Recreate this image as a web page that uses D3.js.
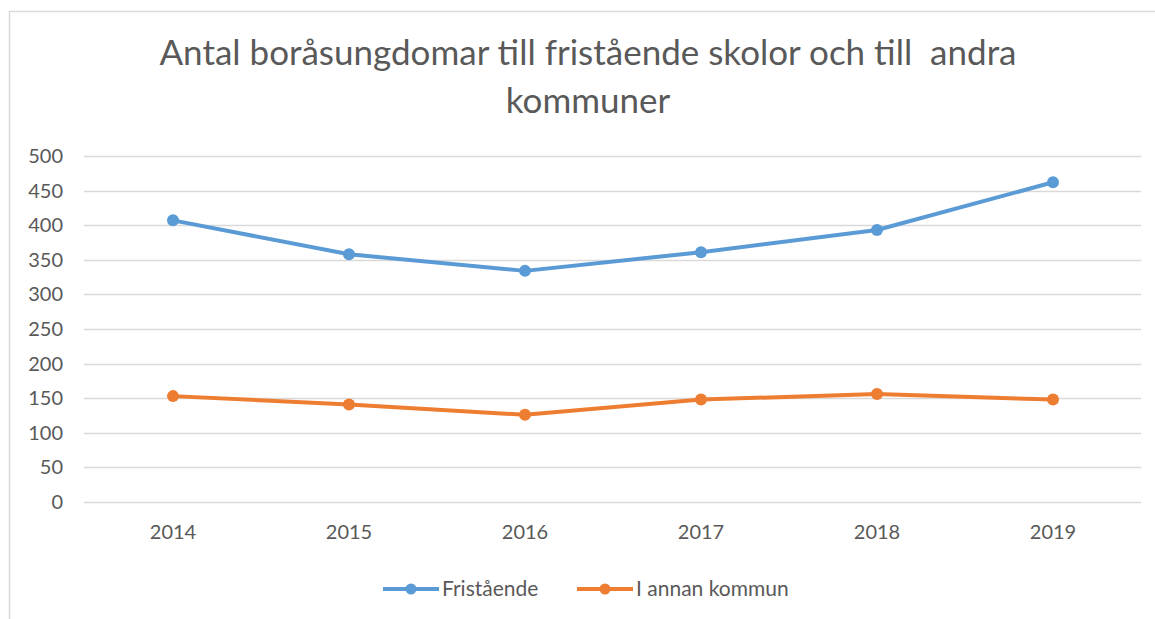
<!DOCTYPE html>
<html>
<head>
<meta charset="utf-8">
<script src="https://cdn.jsdelivr.net/npm/d3@7"></script>
<style>
  body { margin: 0; background: #fff; }
  text { font-family: Lato, "Open Sans", sans-serif; fill: #595959; }
</style>
</head>
<body>
<div id="chart"></div>
<script>
var years = ["2014", "2015", "2016", "2017", "2018", "2019"];
var fristaende = [407, 358, 334, 361, 393, 462];
var annanKommun = [153, 141, 126, 148, 156, 148];
var seriesNames = ["Fristående", "I annan kommun"];
var seriesColors = ["#5B9BD5", "#ED7D31"];
var yTicks = [0, 50, 100, 150, 200, 250, 300, 350, 400, 450, 500];

var width = 1155, height = 619;
var margin = {top: 156, right: 14, bottom: 117, left: 85};

var svg = d3.select("#chart").append("svg")
    .attr("width", width)
    .attr("height", height);

// chart frame (only top and left edge visible)
svg.append("path")
    .attr("d", "M9.5," + height + "V11.5H" + width)
    .attr("fill", "none")
    .attr("stroke", "#D9D9D9")
    .attr("stroke-width", 1.5);

var x = d3.scaleBand().domain(years).range([margin.left, width - margin.right]);
var y = d3.scaleLinear().domain([0, 500]).range([height - margin.bottom, margin.top]);

// title
var title = svg.append("text")
    .attr("text-anchor", "middle")
    .attr("font-size", 35)
    .style("white-space", "pre");
title.append("tspan").attr("x", 588).attr("y", 65).text("Antal boråsungdomar till fristående skolor och till  andra");
title.append("tspan").attr("x", 588).attr("y", 113).text("kommuner");

// gridlines
svg.append("g")
    .selectAll("line")
    .data(yTicks)
    .enter().append("line")
    .attr("x1", margin.left - 1)
    .attr("x2", width - margin.right)
    .attr("y1", function (d) { return Math.round(y(d)) + 0.5; })
    .attr("y2", function (d) { return Math.round(y(d)) + 0.5; })
    .attr("stroke", "#D9D9D9")
    .attr("stroke-width", 1.5);

// y axis
var yAxis = svg.append("g")
    .attr("transform", "translate(" + (margin.left - 22) + ",0)")
    .call(d3.axisLeft(y).tickValues(yTicks).tickSize(0).tickPadding(0));
yAxis.select(".domain").remove();
yAxis.selectAll("text").attr("font-size", 20).attr("fill", "#595959")
    .style("font-family", "Lato, sans-serif");

// x axis
var xAxis = svg.append("g")
    .attr("transform", "translate(0," + (height - margin.bottom) + ")")
    .call(d3.axisBottom(x).tickSize(0).tickPadding(23));
xAxis.select(".domain").remove();
xAxis.selectAll("text").attr("font-size", 20).attr("fill", "#595959")
    .style("font-family", "Lato, sans-serif");

var line = d3.line()
    .x(function (d, i) { return x(years[i]) + x.bandwidth() / 2; })
    .y(function (d) { return y(d); });

[fristaende, annanKommun].forEach(function (values, k) {
    var g = svg.append("g");
    g.append("path")
        .datum(values)
        .attr("d", line)
        .attr("fill", "none")
        .attr("stroke", seriesColors[k])
        .attr("stroke-width", 4)
        .attr("stroke-linejoin", "round");
    g.selectAll("circle")
        .data(values)
        .enter().append("circle")
        .attr("cx", function (d, i) { return x(years[i]) + x.bandwidth() / 2; })
        .attr("cy", function (d) { return y(d); })
        .attr("r", 6)
        .attr("fill", seriesColors[k]);
});

// legend
var legendX = [383, 577];
var legendY = 589;
seriesNames.forEach(function (name, k) {
    var lg = svg.append("g").attr("transform", "translate(" + legendX[k] + "," + legendY + ")");
    lg.append("line")
        .attr("x1", 0).attr("x2", 56)
        .attr("stroke", seriesColors[k])
        .attr("stroke-width", 4);
    lg.append("circle")
        .attr("cx", 28).attr("r", 5.5)
        .attr("fill", seriesColors[k]);
    lg.append("text")
        .attr("x", 59)
        .attr("dy", "0.35em")
        .attr("font-size", 21)
        .text(name);
});
</script>
</body>
</html>
